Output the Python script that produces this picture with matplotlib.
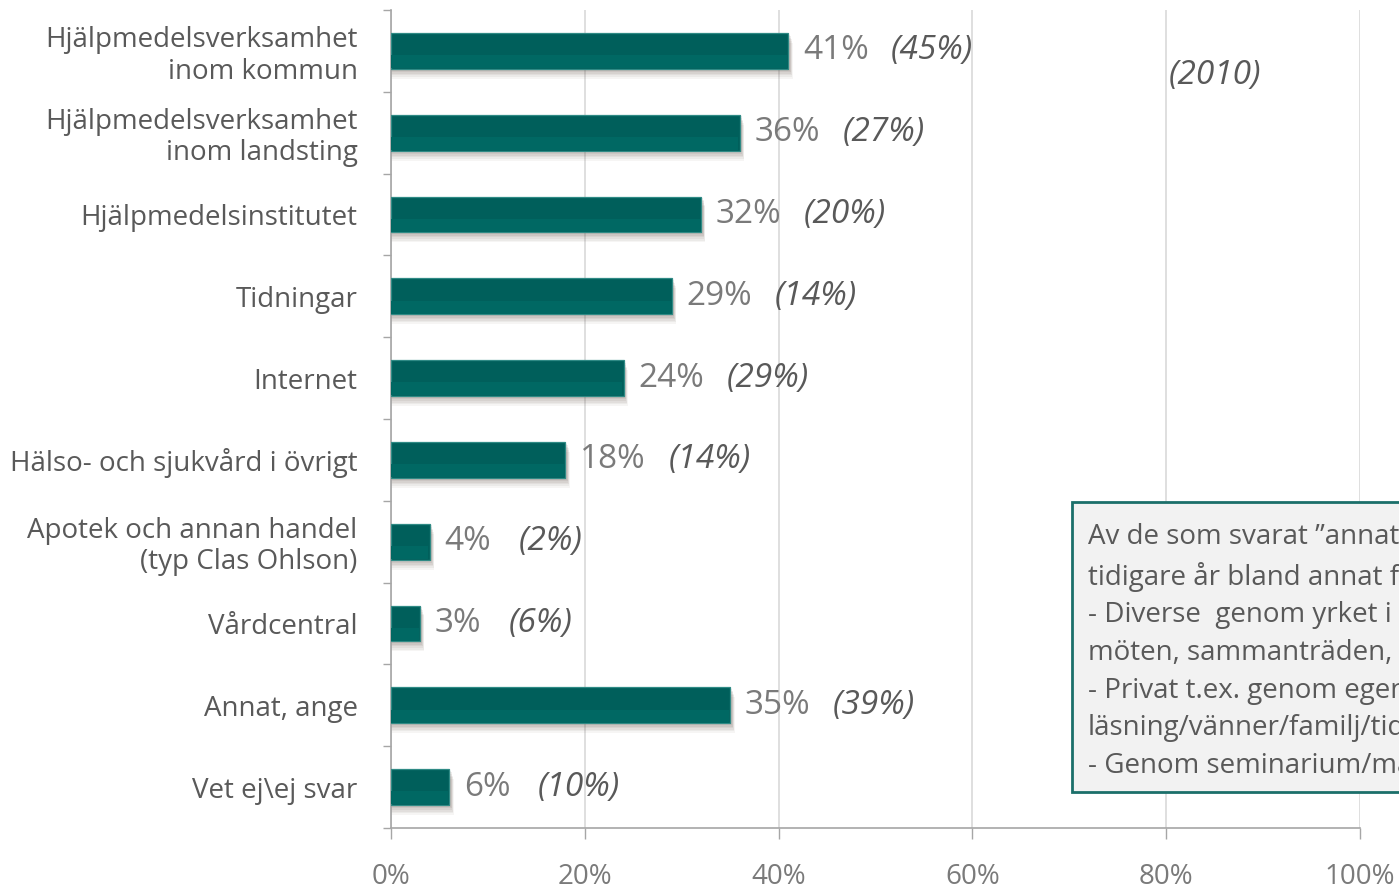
#!/usr/bin/env python3
# -*- coding: utf-8 -*-
"""Horisontellt stapeldiagram: varifrån man får information om hjälpmedel."""

import matplotlib as mpl
import matplotlib.pyplot as plt
from matplotlib.patches import Rectangle

categories = [
    "Hjälpmedelsverksamhet\ninom kommun",
    "Hjälpmedelsverksamhet\ninom landsting",
    "Hjälpmedelsinstitutet",
    "Tidningar",
    "Internet",
    "Hälso- och sjukvård i övrigt",
    "Apotek och annan handel\n(typ Clas Ohlson)",
    "Vårdcentral",
    "Annat, ange",
    "Vet ej\\ej svar",
]
values_now = [41, 36, 32, 29, 24, 18, 4, 3, 35, 6]
values_2010 = [45, 27, 20, 14, 29, 14, 2, 6, 39, 10]
x_ticks = [0, 20, 40, 60, 80, 100]

box_lines = [
    "Av de som svarat ”annat, ange” har man liksom",
    "tidigare år bland annat fått information:",
    "- Diverse  genom yrket i form av kurser,",
    "möten, sammanträden, kollegor",
    "- Privat t.ex. genom egen erfarenhet,",
    "läsning/vänner/familj/tidningar",
    "- Genom seminarium/mässor",
]

TEAL = "#005f5b"
TEXT = "#595959"
LIGHT = "#7a7a7a"


def main():
    mpl.rcParams.update(
        {
            "font.family": ["Open Sans", "DejaVu Sans"],
            "figure.dpi": 100,
            "savefig.dpi": 100,
        }
    )
    W, H = 1399, 890
    fig = plt.figure(figsize=(W / 100, H / 100))
    ax = fig.add_axes([391 / W, 1 - 828 / H, (1360 - 391) / W, (828 - 10) / H])

    n = len(categories)
    ys = list(range(n))
    bh = 0.44

    # skugga under staplarna
    for k, a in enumerate([0.10, 0.10, 0.09, 0.08, 0.07, 0.06]):
        dy = 0.02 + 0.02 * k
        ax.barh([y + dy for y in ys], [v + 0.2 + 0.05 * k for v in values_now],
                height=bh, color="#6b5a52", alpha=a, zorder=2, linewidth=0)

    ax.barh(ys, values_now, height=bh, color=TEAL, edgecolor="#2f8a85",
            linewidth=0.9, zorder=3)
    # något ljusare nederkant (fasning)
    ax.barh([y + bh * 0.3 for y in ys], [v - 0.15 for v in values_now],
            height=bh * 0.36, color="#006863", linewidth=0, zorder=4)

    for y, v, old in zip(ys, values_now, values_2010):
        ax.annotate(f"{v}%", (v, y), xytext=(10.5, 0), textcoords="offset points",
                    ha="left", va="center", fontsize=24, color=LIGHT, zorder=5)
        off = 74 if v >= 10 else 64
        ax.annotate(f"({old}%)", (v, y), xytext=(off, 0), textcoords="offset points",
                    ha="left", va="center", fontsize=24, style="italic",
                    color=TEXT, zorder=5)

    ax.text(80.3, 0.3, "(2010)", ha="left", va="center", fontsize=24,
            style="italic", color=TEXT)

    ax.set_xlim(0, 100)
    ax.set_ylim(n - 0.5, -0.5)
    ax.set_xticks(x_ticks)
    ax.set_xticklabels([f"{t}%" for t in x_ticks], fontsize=20, color=LIGHT)
    ax.set_yticks(ys)
    ax.set_yticklabels(categories, fontsize=20, color=TEXT, linespacing=1.15)
    ax.set_yticks([y + 0.5 for y in range(-1, n)], minor=True)

    ax.tick_params(axis="y", which="major", length=0, pad=24)
    ax.tick_params(axis="y", which="minor", length=6, color="#a6a6a6", width=1)
    ax.tick_params(axis="x", which="major", length=8, color="#a6a6a6", width=1,
                   pad=17)
    ax.grid(axis="x", color="#d9d9d9", linewidth=1.2, zorder=0)
    ax.set_axisbelow(True)
    for s in ("top", "right"):
        ax.spines[s].set_visible(False)
    for s in ("left", "bottom"):
        ax.spines[s].set_color("#a6a6a6")
        ax.spines[s].set_linewidth(1.2)

    # kommentarsruta (beskuren i högerkanten, som i originalet)
    fig.add_artist(Rectangle((1072 / W, 1 - 792 / H), 400 / W, 290 / H,
                             transform=fig.transFigure, facecolor="#f2f2f2",
                             edgecolor="#1b6f6a", linewidth=2, zorder=6))
    fig.text(1088 / W, 1 - 523 / H, "\n".join(box_lines), ha="left", va="top",
             fontsize=20, color=TEXT, linespacing=1.46, zorder=7)

    fig.savefig("out.png")
    plt.close(fig)


if __name__ == "__main__":
    main()
